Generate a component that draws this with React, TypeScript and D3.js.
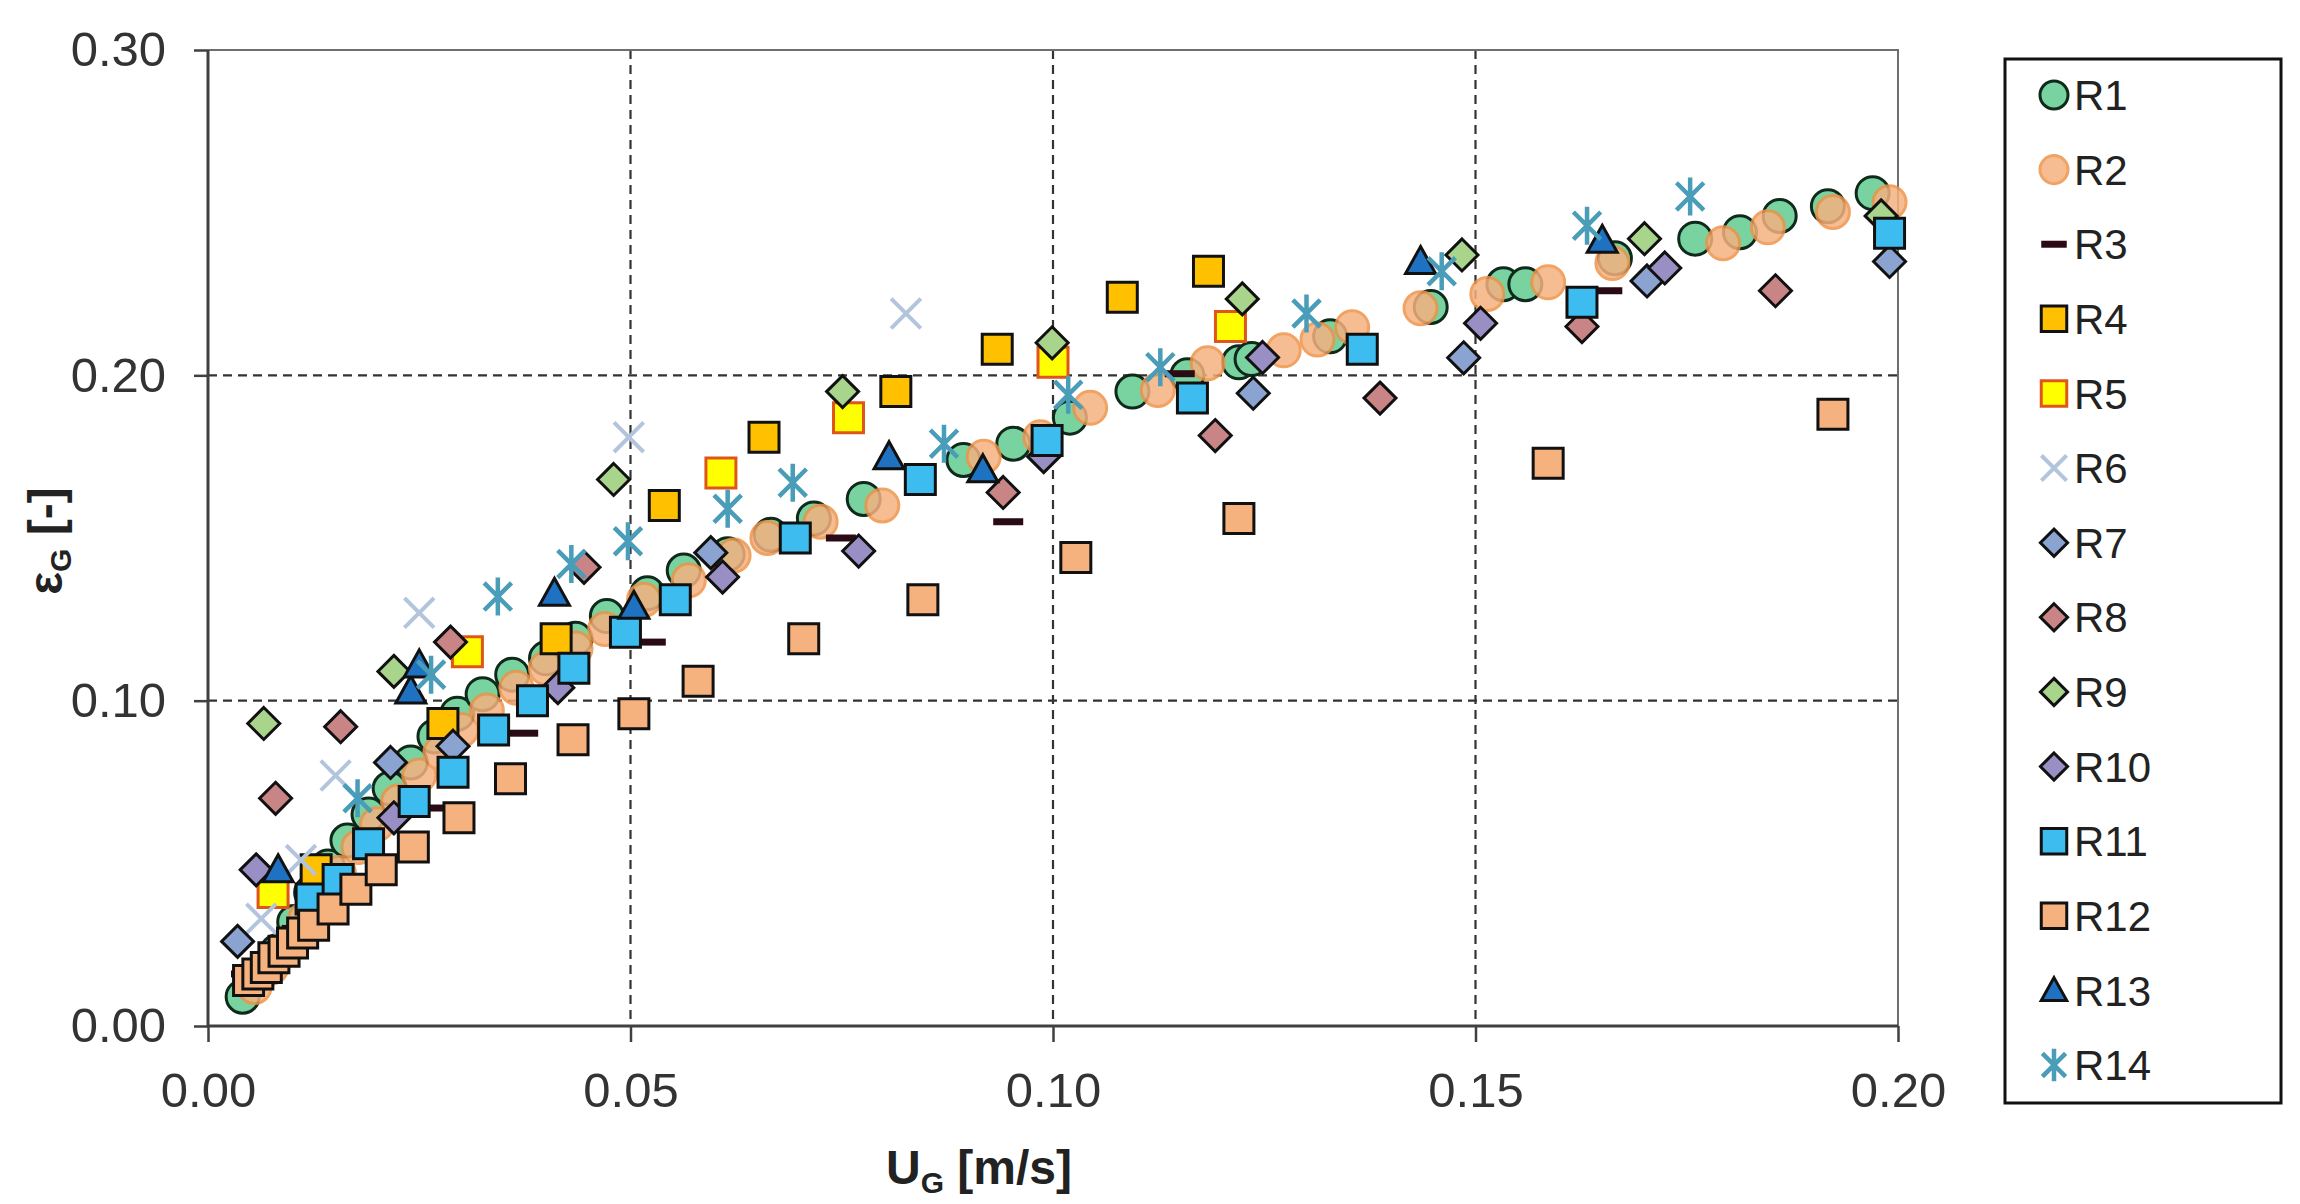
// @ts-nocheck
import * as d3 from "d3"
import { useEffect, useRef } from "react"
import * as React from "react"

const xTicks = [0, 0.05, 0.1, 0.15, 0.2]
const yTicks = [0, 0.1, 0.2, 0.3]
const seriesNames = ["R1", "R2", "R3", "R4", "R5", "R6", "R7", "R8", "R9", "R10", "R11", "R12", "R13", "R14"]

// [U_G, eps_G]
const r1 = [
  [0.0041, 0.009], [0.0062, 0.016], [0.0082, 0.023], [0.0102, 0.032], [0.0122, 0.041], [0.0142, 0.049],
  [0.0165, 0.057], [0.019, 0.065], [0.0215, 0.073], [0.024, 0.081], [0.0268, 0.089], [0.0295, 0.096],
  [0.0325, 0.102], [0.036, 0.108], [0.04, 0.113], [0.0435, 0.119], [0.0472, 0.126], [0.052, 0.133],
  [0.0563, 0.14], [0.0615, 0.145], [0.0666, 0.151], [0.0717, 0.156], [0.0776, 0.162], [0.0894, 0.174],
  [0.0953, 0.179], [0.102, 0.187], [0.1094, 0.195], [0.1159, 0.2], [0.122, 0.204], [0.1235, 0.205],
  [0.1328, 0.212], [0.1447, 0.221], [0.1533, 0.228], [0.1559, 0.228], [0.1665, 0.236], [0.176, 0.242],
  [0.1813, 0.244], [0.186, 0.249], [0.1917, 0.252], [0.197, 0.256],
]
const r2 = [
  [0.0055, 0.012], [0.0075, 0.018], [0.0095, 0.025], [0.0115, 0.033], [0.0135, 0.04], [0.0155, 0.047],
  [0.0178, 0.055], [0.02, 0.062], [0.0225, 0.069], [0.025, 0.077], [0.0275, 0.084], [0.03, 0.091],
  [0.033, 0.097], [0.0365, 0.104], [0.04, 0.11], [0.0435, 0.116], [0.047, 0.122], [0.0516, 0.131],
  [0.0569, 0.137], [0.0622, 0.1446], [0.0662, 0.15], [0.0725, 0.155], [0.0798, 0.16], [0.0918, 0.175],
  [0.0985, 0.181], [0.1044, 0.19], [0.1124, 0.1955], [0.1183, 0.2037], [0.1273, 0.2077], [0.1313, 0.211],
  [0.1354, 0.2148], [0.1435, 0.2206], [0.1514, 0.225], [0.1586, 0.2286], [0.1662, 0.2345], [0.1793, 0.2406],
  [0.1846, 0.2455], [0.1923, 0.2502], [0.199, 0.2532],
]
const r3 = [
  [0.0045, 0.016], [0.0075, 0.022], [0.0105, 0.03], [0.014, 0.038], [0.0273, 0.067], [0.0373, 0.09],
  [0.0524, 0.118], [0.0749, 0.15], [0.0947, 0.155], [0.115, 0.2005], [0.1656, 0.226],
]
const r4 = [
  [0.0128, 0.048], [0.0278, 0.093], [0.0412, 0.119], [0.054, 0.16], [0.0658, 0.181], [0.0814, 0.195],
  [0.0934, 0.208], [0.1082, 0.224], [0.1184, 0.232],
]
const r5 = [[0.0077, 0.041], [0.0307, 0.115], [0.0607, 0.17], [0.0758, 0.187], [0.1, 0.204], [0.121, 0.215]]
const r6 = [[0.0063, 0.033], [0.011, 0.051], [0.0151, 0.077], [0.025, 0.127], [0.0498, 0.181], [0.0826, 0.219]]
const r7 = [
  [0.0035, 0.026], [0.0216, 0.081], [0.029, 0.086], [0.0595, 0.1455], [0.1237, 0.1945], [0.1486, 0.2054],
  [0.1703, 0.229], [0.199, 0.235],
]
const r8 = [
  [0.008, 0.07], [0.0157, 0.092], [0.0287, 0.118], [0.0445, 0.141], [0.0941, 0.164], [0.1192, 0.1815],
  [0.1387, 0.193], [0.1626, 0.215], [0.1855, 0.226],
]
const r9 = [
  [0.0066, 0.093], [0.022, 0.109], [0.048, 0.168], [0.0751, 0.195], [0.0999, 0.21], [0.1224, 0.2235],
  [0.1484, 0.237], [0.17, 0.242], [0.198, 0.249],
]
const r10 = [
  [0.0057, 0.048], [0.022, 0.064], [0.0414, 0.104], [0.0609, 0.138], [0.077, 0.146], [0.0989, 0.175],
  [0.1248, 0.2055], [0.1506, 0.216], [0.1724, 0.233],
]
const r11 = [
  [0.0122, 0.039], [0.0154, 0.045], [0.019, 0.056], [0.0244, 0.069], [0.029, 0.078], [0.0338, 0.091],
  [0.0384, 0.1], [0.0433, 0.11], [0.0494, 0.121], [0.0553, 0.131], [0.0695, 0.15], [0.0843, 0.168],
  [0.0993, 0.18], [0.1165, 0.193], [0.1366, 0.208], [0.1626, 0.2225], [0.199, 0.2437],
]
const r12 = [
  [0.0048, 0.014], [0.0059, 0.016], [0.0069, 0.018], [0.0078, 0.021], [0.009, 0.023], [0.01, 0.0255],
  [0.0112, 0.0286], [0.0125, 0.031], [0.0148, 0.036], [0.0175, 0.042], [0.0205, 0.048], [0.0243, 0.055],
  [0.0297, 0.064], [0.0358, 0.076], [0.0432, 0.088], [0.0504, 0.096], [0.058, 0.106], [0.0705, 0.119],
  [0.0846, 0.131], [0.1027, 0.144], [0.122, 0.156], [0.1586, 0.173], [0.1923, 0.188],
]
const r13 = [
  [0.0083, 0.048], [0.024, 0.103], [0.025, 0.111], [0.041, 0.133], [0.0504, 0.129], [0.0806, 0.175],
  [0.0917, 0.171], [0.1435, 0.235], [0.165, 0.2415],
]
const r14 = [
  [0.0177, 0.07], [0.0264, 0.108], [0.0343, 0.132], [0.043, 0.142], [0.0497, 0.149], [0.0615, 0.159],
  [0.0692, 0.167], [0.0871, 0.179], [0.1018, 0.194], [0.1127, 0.2025], [0.13, 0.219], [0.146, 0.232],
  [0.1632, 0.246], [0.1754, 0.255],
]
const seriesValues = [r1, r2, r3, r4, r5, r6, r7, r8, r9, r10, r11, r12, r13, r14]

const markerStyles = [
  { shape: "circle", size: 16.5, fill: "#78d3a1", stroke: "#0f2a1b", sw: 3 },
  { shape: "circle", size: 16.5, fill: "#f6b27f", stroke: "#ef9348", sw: 3, opacity: 0.85 },
  { shape: "dash", size: 15, fill: "#2a0a14", stroke: "none", sw: 0 },
  { shape: "square", size: 15, fill: "#ffc000", stroke: "#111", sw: 3 },
  { shape: "square", size: 15, fill: "#ffff00", stroke: "#e0561a", sw: 3 },
  { shape: "x", size: 19, fill: "none", stroke: "#b3c5dd", sw: 4 },
  { shape: "diamond", size: 16, fill: "#8aa3d0", stroke: "#111", sw: 3 },
  { shape: "diamond", size: 16, fill: "#c98585", stroke: "#111", sw: 3 },
  { shape: "diamond", size: 16, fill: "#a8d48c", stroke: "#111", sw: 3 },
  { shape: "diamond", size: 16, fill: "#9a8fc4", stroke: "#111", sw: 3 },
  { shape: "square", size: 15, fill: "#3dbdef", stroke: "#111", sw: 3 },
  { shape: "square", size: 15, fill: "#f6b27e", stroke: "#111", sw: 3 },
  { shape: "triangle", size: 15, fill: "#1f72c2", stroke: "#111", sw: 3 },
  { shape: "star", size: 19, fill: "none", stroke: "#4a9db8", sw: 4.5 },
]

function markerPath(shape: string, s: number): string {
  switch (shape) {
    case "circle":
      return d3.symbol(d3.symbolCircle, Math.PI * s * s)()
    case "square":
      return `M${-s},${-s}h${2 * s}v${2 * s}h${-2 * s}Z`
    case "diamond":
      return `M0,${-s}L${s},0L0,${s}L${-s},0Z`
    case "triangle":
      return `M0,${-s}L${s},${s * 0.8}L${-s},${s * 0.8}Z`
    case "dash":
      return `M${-s},-3.5h${2 * s}v7h${-2 * s}Z`
    case "x": {
      const a = s * 0.78
      return `M${-a},${-a}L${a},${a}M${-a},${a}L${a},${-a}`
    }
    case "star": {
      const a = s * 0.72
      return `M${-a},${-a}L${a},${a}M${-a},${a}L${a},${-a}M0,${-s}L0,${s}`
    }
  }
  return ""
}

const W = 2300
const H = 1204

function buildSVG(node: SVGSVGElement) {
  const svg = d3.select(node)
  svg.selectAll("*").remove()

  const left = 208, right = 1898, top = 50, bottom = 1026
  const x = d3.scaleLinear().domain([0, 0.2]).range([left, right])
  const y = d3.scaleLinear().domain([0, 0.3]).range([bottom, top])
  const font = "'Liberation Sans', Arial, sans-serif"

  svg.append("rect").attr("width", W).attr("height", H).attr("fill", "#fff")

  // dashed grid
  const grid = svg.append("g").attr("stroke", "#333").attr("stroke-width", 2.2).attr("stroke-dasharray", "9,6")
  grid.selectAll("line.v")
    .data(xTicks.filter(t => t > 0 && t < 0.2))
    .join("line")
    .attr("x1", d => x(d)).attr("x2", d => x(d))
    .attr("y1", top).attr("y2", bottom)
  grid.selectAll("line.h")
    .data(yTicks.filter(t => t > 0 && t < 0.3))
    .join("line")
    .attr("class", "h")
    .attr("x1", left).attr("x2", right)
    .attr("y1", d => y(d)).attr("y2", d => y(d))

  // top and right border
  svg.append("path")
    .attr("d", `M${left},${top}H${right}V${bottom}`)
    .attr("fill", "none").attr("stroke", "#6e6e6e").attr("stroke-width", 2)

  const yAxis = svg.append("g")
    .attr("transform", `translate(${left},0)`)
    .call(d3.axisLeft(y).tickValues(yTicks).tickFormat(d3.format(".2f")).tickSize(14).tickPadding(28))
  const xAxis = svg.append("g")
    .attr("transform", `translate(0,${bottom})`)
    .call(d3.axisBottom(x).tickValues(xTicks).tickFormat(d3.format(".2f")).tickSize(16).tickPadding(30))
  for (const ax of [yAxis, xAxis]) {
    ax.select(".domain").remove()
    ax.selectAll(".tick line").attr("stroke", "#404040").attr("stroke-width", 2.5)
    ax.selectAll(".tick text").attr("fill", "#333").style("font-family", font).style("font-size", "49px")
  }
  svg.append("path")
    .attr("d", `M${left},${top}V${bottom}H${right}`)
    .attr("fill", "none").attr("stroke", "#404040").attr("stroke-width", 3)

  // series
  const plot = svg.append("g")
  seriesValues.forEach((values, i) => {
    const st = markerStyles[i]
    plot.append("g")
      .attr("fill", st.fill).attr("stroke", st.stroke).attr("stroke-width", st.sw)
      .attr("opacity", st.opacity ?? 1)
      .selectAll("path")
      .data(values)
      .join("path")
      .attr("d", markerPath(st.shape, st.size))
      .attr("transform", d => `translate(${x(d[0])},${y(d[1])})`)
  })

  // axis titles
  const xt = svg.append("text")
    .attr("x", 979).attr("y", 1184)
    .attr("text-anchor", "middle")
    .style("font-family", font).style("font-size", "48px").style("font-weight", "bold")
    .attr("fill", "#222")
  xt.append("tspan").text("U")
  xt.append("tspan").attr("dy", 9).style("font-size", "30px").text("G")
  xt.append("tspan").attr("dy", -9).text(" [m/s]")

  const yt = svg.append("text")
    .attr("transform", "translate(62,541) rotate(-90)")
    .attr("text-anchor", "middle")
    .style("font-family", font).style("font-size", "48px").style("font-weight", "bold")
    .attr("fill", "#222")
  yt.append("tspan").text("ε")
  yt.append("tspan").attr("dy", 9).style("font-size", "30px").text("G")
  yt.append("tspan").attr("dy", -9).text(" [-]")

  // legend
  const lg = svg.append("g")
  lg.append("rect")
    .attr("x", 2005).attr("y", 59).attr("width", 276).attr("height", 1044)
    .attr("fill", "#fff").attr("stroke", "#111").attr("stroke-width", 3)
  const rowY = d3.scalePoint().domain(seriesNames).range([95, 1065])
  seriesNames.forEach((name, i) => {
    const st = markerStyles[i]
    const cy = rowY(name)
    lg.append("path")
      .attr("d", markerPath(st.shape, st.size * 0.85))
      .attr("transform", `translate(2054,${cy})`)
      .attr("fill", st.fill).attr("stroke", st.stroke).attr("stroke-width", st.sw)
      .attr("opacity", st.opacity ?? 1)
    lg.append("text")
      .attr("x", 2074).attr("y", cy).attr("dy", "0.36em")
      .style("font-family", font).style("font-size", "42px")
      .attr("fill", "#222")
      .text(name)
  })
}

export default function App() {
  const ref = useRef<SVGSVGElement>(null)
  useEffect(() => {
    buildSVG(ref.current)
  }, [])
  return (
    <svg ref={ref} width={W} height={H} style={{ position: "absolute", left: 0, top: 0, display: "block" }} />
  )
}
